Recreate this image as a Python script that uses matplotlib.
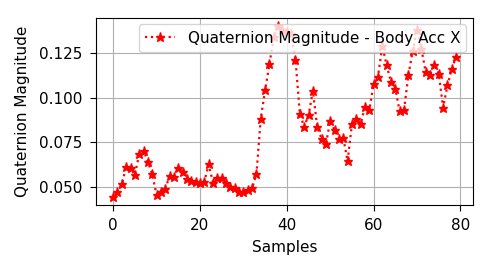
import matplotlib
matplotlib.use("Agg")
import matplotlib.pyplot as plt
import numpy as np

quat_mag = [
    0.0446, 0.0469, 0.0517, 0.0613, 0.0604, 0.0567, 0.0684, 0.0703, 0.0641, 0.0571,
    0.0456, 0.0474, 0.0487, 0.0563, 0.0558, 0.0604, 0.0586, 0.0543, 0.0534, 0.0530,
    0.0521, 0.0530, 0.0626, 0.0524, 0.0548, 0.0552, 0.0521, 0.0498, 0.0496, 0.0471,
    0.0471, 0.0484, 0.0493, 0.0571, 0.0883, 0.1040, 0.1189, 0.1337, 0.1400, 0.1380,
    0.1365, 0.1356, 0.1213, 0.0910, 0.0836, 0.0901, 0.1037, 0.0836, 0.0771, 0.0740,
    0.0869, 0.0817, 0.0771, 0.0775, 0.0645, 0.0851, 0.0883, 0.0855, 0.0947, 0.0929,
    0.1077, 0.1118, 0.1290, 0.1180, 0.1087, 0.1050, 0.0923, 0.0933, 0.1124, 0.1263,
    0.1378, 0.1272, 0.1142, 0.1129, 0.1185, 0.1133, 0.0944, 0.1068, 0.1161, 0.1230,
]
samples = np.arange(len(quat_mag))

plt.rcParams["font.size"] = 11

fig = plt.figure(figsize=(4.8, 2.59), dpi=100)
ax = fig.add_axes([0.200, 0.208, 0.786, 0.724])
ax.plot(samples, quat_mag, "r:*", lw=1.6, ms=6.5,
        label="Quaternion Magnitude - Body Acc X")
ax.set_xlabel("Samples", labelpad=5)
ax.set_ylabel("Quaternion Magnitude", labelpad=7)
ax.set_xticks([0, 20, 40, 60, 80])
ax.set_yticks([0.050, 0.075, 0.100, 0.125])
ax.tick_params(length=4, pad=5.5)
ax.grid(True)
ax.legend(loc="upper right", borderaxespad=0.45)

fig.savefig("out.png", dpi=100)
